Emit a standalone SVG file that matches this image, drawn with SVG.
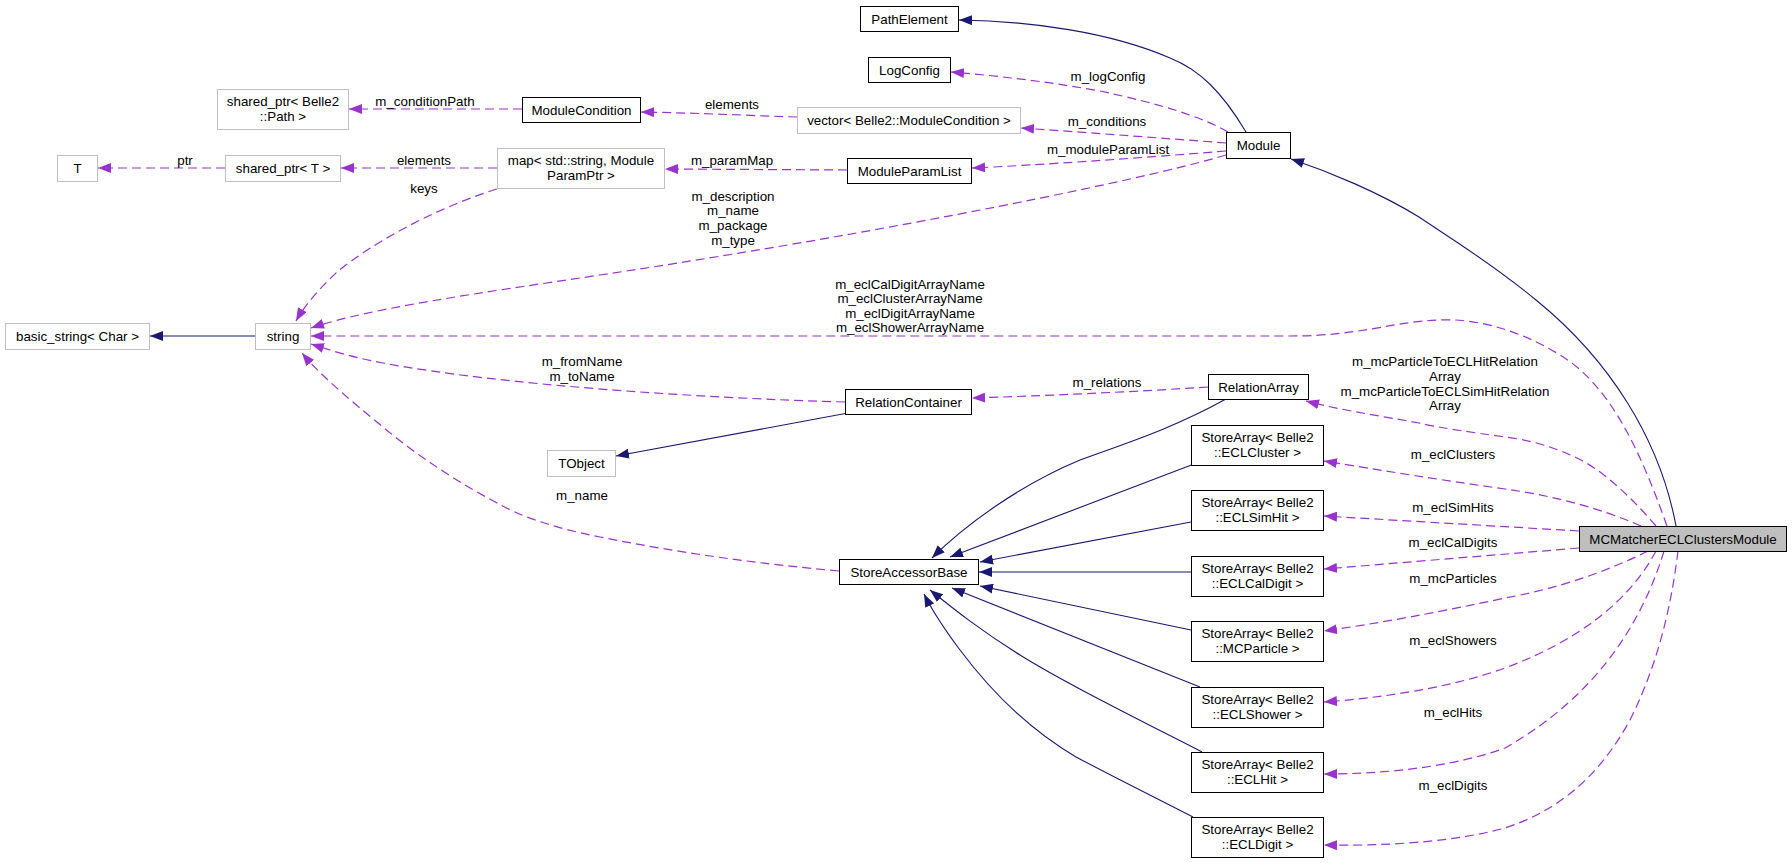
<svg xmlns="http://www.w3.org/2000/svg" width="1792" height="863" viewBox="0 0 1792 863">
<style>
text{font-family:"Liberation Sans",Arial,Helvetica,sans-serif;font-size:13.33px;fill:#000;text-anchor:middle}
.nb{fill:#fff;stroke:#000;stroke-width:1}
.ng{fill:#fff;stroke:#bfbfbf;stroke-width:1}
.nf{fill:#bfbfbf;stroke:#000;stroke-width:1}
.e{fill:none;stroke:#191970;stroke-width:1.1;marker-end:url(#an)}
.d{fill:none;stroke:#9a32cd;stroke-width:1.2;stroke-dasharray:9,5;marker-end:url(#ap)}
</style>
<defs>
<marker id="an" viewBox="0 0 13 10" refX="13" refY="5" markerWidth="13" markerHeight="10" markerUnits="userSpaceOnUse" orient="auto"><path d="M0,0 L13,5 L0,10 z" fill="#191970"/></marker>
<marker id="ap" viewBox="0 0 13 10" refX="13" refY="5" markerWidth="13" markerHeight="10" markerUnits="userSpaceOnUse" orient="auto"><path d="M0,0 L13,5 L0,10 z" fill="#9a32cd"/></marker>
</defs>
<rect width="1792" height="863" fill="#fff"/>
<g id="connectors">
<path class="e" d="M1246,132 C1222,92 1200,70 1170,58 C1110,32 1030,21 959,20"/>
<path class="e" d="M1676,526 C1660,440 1610,360 1536,300 C1490,262 1450,238 1419,217 C1380,193 1330,172 1291,159"/>
<path class="d" d="M1228,132 C1200,116 1160,104 1100,91 C1050,82 1000,76 951,72"/>
<path class="d" d="M1226,143 C1160,138 1080,132 1021,128"/>
<path class="d" d="M1226,151 C1140,158 1040,165 972,168"/>
<path class="d" d="M1226,155 C1150,178 900,230 600,275 C480,293 370,308 311,328"/>
<path class="d" d="M797,117 C760,116 700,113 641,112"/>
<path class="d" d="M522,109 L349,109"/>
<path class="d" d="M497,168 L341,168"/>
<path class="d" d="M225,168 L98,168"/>
<path class="d" d="M847,170 L665,169"/>
<path class="d" d="M497,189 C430,210 370,245 337,272 C320,288 305,305 296,321"/>
<path class="e" d="M255,336 L150,336"/>
<path class="d" d="M1667,526 C1640,450 1610,385 1560,355 C1520,330 1475,318 1439,320 C1390,322 1360,336 1290,336 L311,336"/>
<path class="d" d="M1208,387 C1130,392 1040,396 972,398"/>
<path class="d" d="M845,402 C700,398 500,385 383,363 C350,357 330,350 311,344"/>
<path class="e" d="M848,413 L616,456"/>
<path class="d" d="M839,571 C760,564 680,553 600,537 C550,527 520,516 497,503 C450,478 410,450 383,427 C350,400 320,375 302,353"/>
<path class="e" d="M1226,399 C1170,430 1120,445 1080,460 C1020,485 965,525 932,558"/>
<path class="e" d="M1194,464 L950,557"/>
<path class="e" d="M1191,522 L980,562"/>
<path class="e" d="M1191,572 L979,572"/>
<path class="e" d="M1191,630 L980,586"/>
<path class="e" d="M1200,687 L952,588"/>
<path class="e" d="M1202,752 C1120,710 1060,680 1020,655 C980,630 955,610 930,590"/>
<path class="e" d="M1193,817 C1150,795 1110,775 1076,757 C1030,730 990,690 960,650 C945,630 933,612 924,594"/>
<path class="d" d="M1656,526 C1625,490 1600,470 1581,460 C1555,447 1530,440 1505,437 C1470,432 1440,428 1419,423 C1375,415 1340,410 1306,401"/>
<path class="d" d="M1641,526 C1600,508 1550,495 1505,489 C1440,480 1380,470 1324,461"/>
<path class="d" d="M1579,531 L1324,516"/>
<path class="d" d="M1579,548 L1324,569"/>
<path class="d" d="M1648,551 C1600,575 1550,590 1505,598 C1440,612 1380,623 1324,631"/>
<path class="d" d="M1656,551 C1630,600 1580,640 1505,668 C1450,688 1380,698 1324,702"/>
<path class="d" d="M1664,551 C1640,630 1590,700 1505,748 C1450,768 1380,774 1324,774"/>
<path class="d" d="M1678,551 C1672,600 1660,660 1630,720 C1600,775 1560,810 1505,828 C1450,843 1380,846 1324,845"/>
<text x="1108" y="81">m_logConfig</text>
<text x="1107" y="126">m_conditions</text>
<text x="1108" y="154">m_moduleParamList</text>
<text x="732" y="109">elements</text>
<text x="732" y="165">m_paramMap</text>
<text x="425" y="106">m_conditionPath</text>
<text x="185" y="165">ptr</text>
<text x="424" y="165">elements</text>
<text x="424" y="193">keys</text>
<text x="733" y="201">m_description</text>
<text x="733" y="215">m_name</text>
<text x="733" y="230">m_package</text>
<text x="733" y="245">m_type</text>
<text x="910" y="289">m_eclCalDigitArrayName</text>
<text x="910" y="303">m_eclClusterArrayName</text>
<text x="910" y="318">m_eclDigitArrayName</text>
<text x="910" y="332">m_eclShowerArrayName</text>
<text x="582" y="366">m_fromName</text>
<text x="582" y="381">m_toName</text>
<text x="582" y="500">m_name</text>
<text x="1107" y="387">m_relations</text>
<text x="1445" y="366">m_mcParticleToECLHitRelation</text>
<text x="1445" y="381">Array</text>
<text x="1445" y="396">m_mcParticleToECLSimHitRelation</text>
<text x="1445" y="410">Array</text>
<text x="1453" y="459">m_eclClusters</text>
<text x="1453" y="512">m_eclSimHits</text>
<text x="1453" y="547">m_eclCalDigits</text>
<text x="1453" y="583">m_mcParticles</text>
<text x="1453" y="645">m_eclShowers</text>
<text x="1453" y="717">m_eclHits</text>
<text x="1453" y="790">m_eclDigits</text>
</g>
<g id="PathElement"><rect class="nb" x="860.5" y="6.5" width="98" height="25"/><text x="909.5" y="23.5">PathElement</text></g>
<g id="LogConfig"><rect class="nb" x="868.5" y="57.5" width="82" height="25"/><text x="909.5" y="74.5">LogConfig</text></g>
<g id="ModuleCondition"><rect class="nb" x="522.5" y="97.5" width="118" height="25"/><text x="581.5" y="114.5">ModuleCondition</text></g>
<g id="vectorModuleCondition"><rect class="ng" x="797.5" y="107.5" width="223" height="26"/><text x="909" y="125">vector&lt; Belle2::ModuleCondition &gt;</text></g>
<g id="sharedPtrPath"><rect class="ng" x="217.5" y="89.5" width="131" height="40"/><text x="283" y="106">shared_ptr&lt; Belle2</text><text x="283" y="121">::Path &gt;</text></g>
<g id="T"><rect class="ng" x="57.5" y="155.5" width="40" height="26"/><text x="77.5" y="173">T</text></g>
<g id="sharedPtrT"><rect class="ng" x="225.5" y="155.5" width="115" height="26"/><text x="283" y="173">shared_ptr&lt; T &gt;</text></g>
<g id="mapParam"><rect class="ng" x="497.5" y="148.5" width="167" height="40"/><text x="581" y="165">map&lt; std::string, Module</text><text x="581" y="180">ParamPtr &gt;</text></g>
<g id="ModuleParamList"><rect class="nb" x="847.5" y="158.5" width="124" height="25"/><text x="909.5" y="175.5">ModuleParamList</text></g>
<g id="Module"><rect class="nb" x="1226.5" y="132.5" width="64" height="26"/><text x="1258.5" y="150">Module</text></g>
<g id="basicString"><rect class="ng" x="5.5" y="323.5" width="144" height="26"/><text x="77.5" y="341">basic_string&lt; Char &gt;</text></g>
<g id="string"><rect class="ng" x="255.5" y="323.5" width="55" height="26"/><text x="283" y="341">string</text></g>
<g id="RelationContainer"><rect class="nb" x="845.5" y="389.5" width="126" height="25"/><text x="908.5" y="406.5">RelationContainer</text></g>
<g id="TObject"><rect class="ng" x="547.5" y="450.5" width="68" height="26"/><text x="581.5" y="468">TObject</text></g>
<g id="RelationArray"><rect class="nb" x="1208.5" y="374.5" width="100" height="25"/><text x="1258.5" y="391.5">RelationArray</text></g>
<g id="StoreAccessorBase"><rect class="nb" x="839.5" y="559.5" width="139" height="25"/><text x="909" y="576.5">StoreAccessorBase</text></g>
<g id="StoreArrayECLCluster"><rect class="nb" x="1191.5" y="425.5" width="132" height="40"/><text x="1257.5" y="442">StoreArray&lt; Belle2</text><text x="1257.5" y="457">::ECLCluster &gt;</text></g>
<g id="StoreArrayECLSimHit"><rect class="nb" x="1191.5" y="490.5" width="132" height="40"/><text x="1257.5" y="507">StoreArray&lt; Belle2</text><text x="1257.5" y="522">::ECLSimHit &gt;</text></g>
<g id="StoreArrayECLCalDigit"><rect class="nb" x="1191.5" y="556.5" width="132" height="40"/><text x="1257.5" y="573">StoreArray&lt; Belle2</text><text x="1257.5" y="588">::ECLCalDigit &gt;</text></g>
<g id="StoreArrayMCParticle"><rect class="nb" x="1191.5" y="621.5" width="132" height="40"/><text x="1257.5" y="638">StoreArray&lt; Belle2</text><text x="1257.5" y="653">::MCParticle &gt;</text></g>
<g id="StoreArrayECLShower"><rect class="nb" x="1191.5" y="687.5" width="132" height="40"/><text x="1257.5" y="704">StoreArray&lt; Belle2</text><text x="1257.5" y="719">::ECLShower &gt;</text></g>
<g id="StoreArrayECLHit"><rect class="nb" x="1191.5" y="752.5" width="132" height="40"/><text x="1257.5" y="769">StoreArray&lt; Belle2</text><text x="1257.5" y="784">::ECLHit &gt;</text></g>
<g id="StoreArrayECLDigit"><rect class="nb" x="1191.5" y="817.5" width="132" height="40"/><text x="1257.5" y="834">StoreArray&lt; Belle2</text><text x="1257.5" y="849">::ECLDigit &gt;</text></g>
<g id="MCMatcherECLClustersModule"><rect class="nf" x="1579.5" y="526.5" width="207" height="25"/><text x="1683" y="543.5">MCMatcherECLClustersModule</text></g>
</svg>
